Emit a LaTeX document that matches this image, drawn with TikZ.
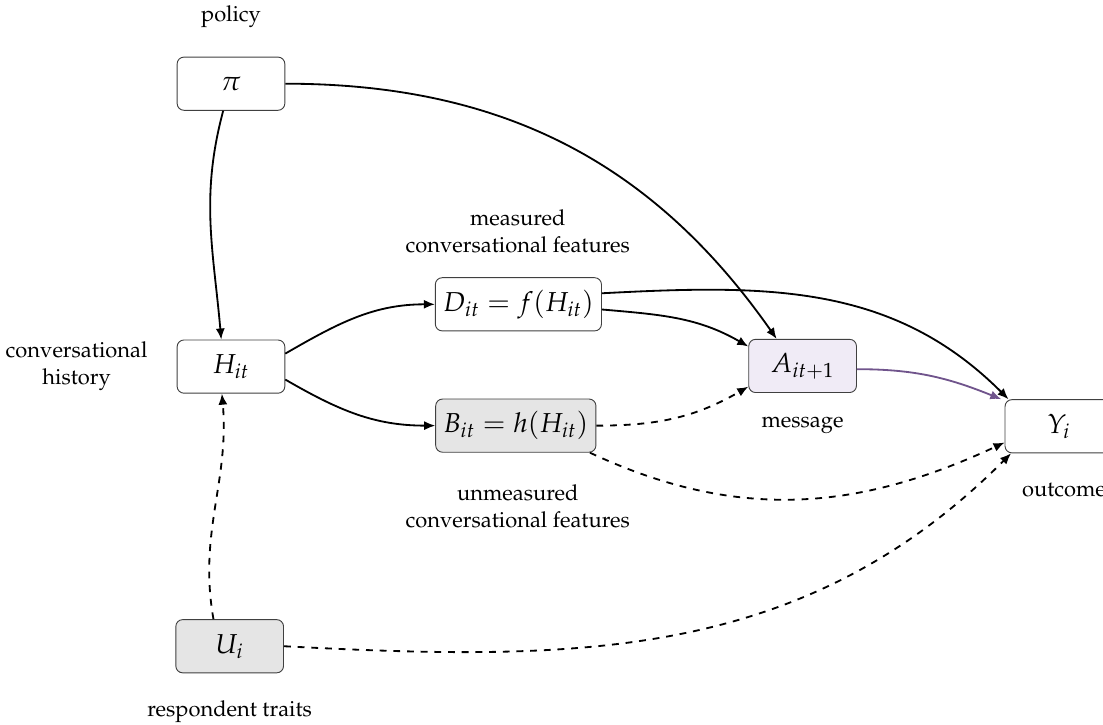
\documentclass[tikz,border=0pt]{standalone}
\usepackage[T1]{fontenc}
\usepackage{mathpazo}
\usepackage{amsmath}
\usetikzlibrary{arrows.meta}
\definecolor{msgpurple}{RGB}{112,84,140}
\definecolor{msgfill}{RGB}{240,235,246}
\definecolor{hidfill}{RGB}{229,229,229}
\tikzset{
    var/.style={draw=black!75, rounded corners=3pt, minimum width=1.66cm, minimum height=0.82cm, font=\large, fill=white},
    hidden/.style={var, fill=hidfill},
    lbl/.style={align=center, font=\fontsize{9.6}{11.8}\selectfont},
    edge/.style={-{Latex[length=1.7mm,width=1.4mm]}, line width=0.8pt},
    hedge/.style={edge, dashed},
}

\begin{document}
\begin{tikzpicture}
    \useasboundingbox (0,0) rectangle (17.0,-11.17);
    % variables
    \node[var] (pi) at (3.56,-1.29) {$\pi$};
    \node[var] (H) at (3.56,-5.65) {$H_{it}$};
    \node[hidden] (U) at (3.54,-9.96) {$U_i$};
    \node[var] (D) at (7.99,-4.69) {$D_{it} = f(H_{it})$};
    \node[hidden] (B) at (7.95,-6.56) {$B_{it} = h(H_{it})$};
    \node[var, fill=msgfill] (A) at (12.37,-5.64) {$A_{it+1}$};
    \node[var] (Y) at (16.32,-6.57) {$Y_i$};
    % labels
    \node[lbl] (piL) at (3.56,-0.26) {policy};
    \node[lbl] (HL) at (1.18,-5.64) {conversational\\history};
    \node[lbl] (UL) at (3.54,-10.97) {respondent traits};
    \node[lbl] (DL) at (7.98,-3.57) {measured\\conversational features};
    \node[lbl] (BL) at (7.98,-7.8) {unmeasured\\conversational features};
    \node[lbl] (AL) at (12.37,-6.55) {message};
    \node[lbl] (YL) at (16.4,-7.55) {outcome};
    % measured paths
    \draw[edge] ([xshift=-0.12cm]pi.south) to[out=-105,in=95] ([xshift=-0.15cm]H.north);
    \draw[edge] (pi.east) to[out=0,in=125] ([xshift=-0.4cm]A.north);
    \draw[edge] ([yshift=0.2cm]H.east) to[out=30,in=180] (D.west);
    \draw[edge] ([yshift=-0.2cm]H.east) to[out=-30,in=180] (B.west);
    \draw[edge] ([yshift=-0.08cm]D.east) to[out=-5,in=150] ([yshift=0.3cm]A.west);
    \draw[edge] ([yshift=0.17cm]D.east) to[out=3,in=135] ([xshift=0.06cm]Y.north west);
    \draw[edge, msgpurple] ([yshift=-0.05cm]A.east) to[out=0,in=158] ([xshift=-0.05cm]Y.north west);
    % unmeasured paths
    \draw[hedge] (B.east) to[out=0,in=-150] ([yshift=-0.32cm]A.west);
    \draw[hedge] ([xshift=-0.1cm]B.south east) to[out=-25,in=-155] ([yshift=-0.25cm]Y.west);
    \draw[hedge] ([xshift=-0.25cm]U.north) to[out=100,in=-85] ([xshift=-0.14cm]H.south);
    \draw[hedge] (U.east) to[out=-3,in=-135] ([xshift=0.1cm]Y.south west);
\end{tikzpicture}
\end{document}
